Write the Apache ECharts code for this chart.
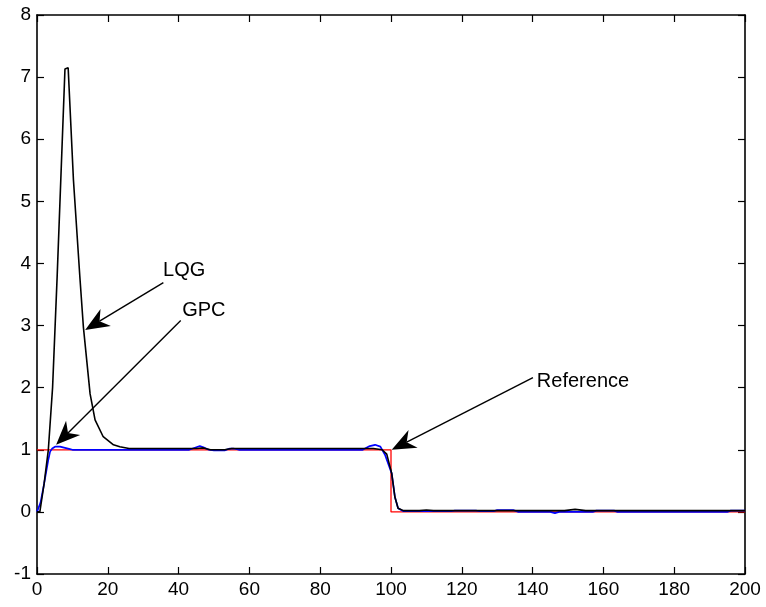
<!DOCTYPE html>
<html>
<head>
<meta charset="utf-8">
<script src="https://cdn.jsdelivr.net/npm/echarts@6/dist/echarts.min.js"></script>
<style>
  html, body { margin: 0; padding: 0; background: #fff; }
  #main { width: 766px; height: 607px; }
</style>
</head>
<body>
<div id="main"></div>
<script>
// sample index (k) and output of each response
var refT = [0, 100, 100, 200];
var refY = [1, 1, 0, 0];

var gpcT = [0, 1, 2, 3.2, 3.7, 4.3, 5.1, 6.5, 7.9, 9.3, 10, 43, 45, 46, 47, 48.5, 50, 53, 54.5, 55.5, 57,
            92, 94, 95.5, 97, 98.3, 100.2, 101.1, 102, 103.5, 117, 118, 124, 125, 129, 130, 134.5, 136,
            145, 146.3, 147.5, 157, 158, 163, 164, 195, 196, 200];
var gpcY = [0, 0.15, 0.45, 0.84, 0.97, 1.02, 1.05, 1.05, 1.03, 1.01, 1.0, 1.0, 1.04, 1.06, 1.04, 1.0, 0.99, 0.99, 1.02, 1.02, 1.0,
            1.0, 1.06, 1.08, 1.05, 0.92, 0.62, 0.24, 0.06, 0.01, 0.01, 0.02, 0.02, 0.01, 0.01, 0.03, 0.03, 0.0,
            0.0, -0.02, 0.0, 0.0, 0.02, 0.02, 0.0, 0.0, 0.02, 0.02];

var lqgT = [0, 0.8, 2, 3.2, 4.4, 5.7, 7.9, 8.8, 10.3, 12.1, 13.1, 15, 16.4, 18.7, 21.6, 23.4, 26,
            45, 47, 49, 53, 55, 95, 97.5, 98.8, 100.2, 101.1, 102, 103.5, 108, 110, 112, 149, 152, 155, 200];
var lqgY = [0, 0, 0.45, 1.0, 2.0, 3.8, 7.13, 7.15, 5.34, 3.79, 2.98, 1.9, 1.48, 1.21, 1.08, 1.05, 1.02,
            1.02, 1.03, 1.0, 1.0, 1.02, 1.02, 1.0, 0.93, 0.62, 0.24, 0.06, 0.02, 0.02, 0.03, 0.02, 0.02, 0.04, 0.02, 0.02];

var xTicks = [0, 200, 20];
var yTicks = [-1, 8, 1];

// annotations: [label, text x, text y, arrow start x, start y, tip x, tip y]
var notes = [
  ['LQG', 35.6, 3.88, 35.7, 3.69, 13.6, 2.93],
  ['GPC', 41.0, 3.24, 40.6, 3.08, 5.4, 1.08],
  ['Reference', 141.2, 2.10, 140.1, 2.16, 100.2, 1.0]
];

function pairs(t, y) {
  return t.map(function (v, i) { return [v, y[i]]; });
}

var chart = echarts.init(document.getElementById('main'));
var font = { fontFamily: 'Liberation Sans, Arial, sans-serif', fontSize: 19, color: '#000' };

function axis(pos, showLabel, ticks) {
  return {
    type: 'value', position: pos,
    min: ticks[0], max: ticks[1], interval: ticks[2],
    axisLine: { show: true, onZero: false, lineStyle: { color: '#000', width: 1.6 } },
    axisTick: { show: true, inside: true, length: 7, lineStyle: { color: '#000', width: 1.2 } },
    axisLabel: Object.assign({ show: showLabel, margin: 6 }, font),
    splitLine: { show: false }
  };
}

chart.setOption({
  animation: false,
  grid: { left: 37, right: 21, top: 15, bottom: 33 },
  xAxis: [axis('bottom', true, xTicks), axis('top', false, xTicks)],
  yAxis: [axis('left', true, yTicks), axis('right', false, yTicks)],
  series: [
    { type: 'line', data: pairs(refT, refY), symbol: 'none', lineStyle: { color: '#ff0000', width: 1.3 } },
    { type: 'line', data: pairs(gpcT, gpcY), symbol: 'none', lineStyle: { color: '#0000ff', width: 1.7 } },
    { type: 'line', data: pairs(lqgT, lqgY), symbol: 'none', lineStyle: { color: '#000', width: 1.6 } }
  ]
});

// arrows and labels, placed through the axes
var g = [];
notes.forEach(function (n) {
  var tp = chart.convertToPixel({ gridIndex: 0 }, [n[1], n[2]]);
  var s = chart.convertToPixel({ gridIndex: 0 }, [n[3], n[4]]);
  var t = chart.convertToPixel({ gridIndex: 0 }, [n[5], n[6]]);
  var dx = t[0] - s[0], dy = t[1] - s[1];
  var len = Math.sqrt(dx * dx + dy * dy);
  var ux = dx / len, uy = dy / len, nx = -uy, ny = ux;
  var L = 24, W = 10;
  var back = [t[0] - L * ux, t[1] - L * uy];
  var notch = [t[0] - 0.7 * L * ux, t[1] - 0.7 * L * uy];
  g.push({ type: 'line', shape: { x1: s[0], y1: s[1], x2: notch[0], y2: notch[1] },
           style: { stroke: '#000', lineWidth: 1.4 } });
  g.push({ type: 'polygon', shape: { points: [t, [back[0] + W * nx, back[1] + W * ny], notch,
           [back[0] - W * nx, back[1] - W * ny]] }, style: { fill: '#000' } });
  g.push({ type: 'text', x: tp[0], y: tp[1],
           style: { text: n[0], fill: '#000', font: '20px Liberation Sans, Arial, sans-serif',
                    textAlign: 'left', textVerticalAlign: 'middle' } });
});
chart.setOption({ graphic: g });
</script>
</body>
</html>
